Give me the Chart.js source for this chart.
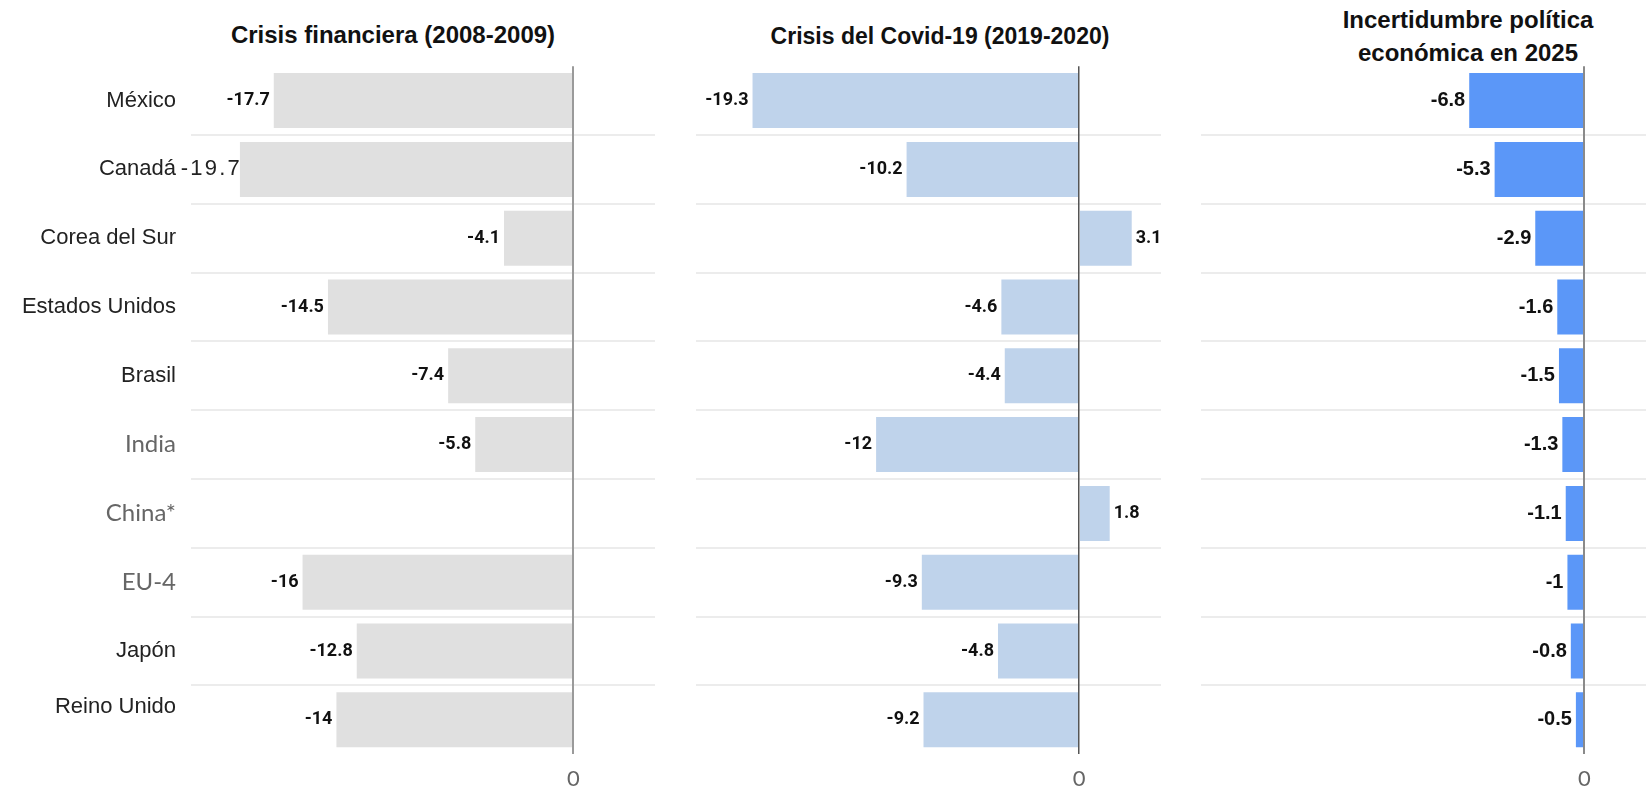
<!DOCTYPE html>
<html>
<head>
<meta charset="utf-8">
<script src="https://cdn.jsdelivr.net/npm/chart.js@4"></script>
<style>
  html, body { margin: 0; padding: 0; background: #fff; }
  body { width: 1646px; height: 788px; position: relative; overflow: hidden; }
  canvas { position: absolute; top: 0; }
  .title { position: absolute; transform: translateX(-50%); white-space: nowrap; text-align: center;
           font-family: "Liberation Sans", Arial, sans-serif; font-weight: bold; color: #111; }
</style>
</head>
<body>
<div class="title" style="left:393px; top:21px; font-size:24px; line-height:28px;">Crisis financiera (2008-2009)</div>
<div class="title" style="left:940px; top:22px; font-size:23px; line-height:28px;">Crisis del Covid-19 (2019-2020)</div>
<div class="title" style="left:1468px; top:4px; font-size:24px; line-height:32.5px;">Incertidumbre política<br>económica en 2025</div>
<canvas id="c1" width="655" height="788" style="left:0px"></canvas>
<canvas id="c2" width="501" height="788" style="left:660px"></canvas>
<canvas id="c3" width="485" height="788" style="left:1161px"></canvas>
<script>
// ---- data ----
const categories = ["México", "Canadá", "Corea del Sur", "Estados Unidos", "Brasil", "India", "China*", "EU-4", "Japón", "Reino Unido"];
const crisisFinanciera = [-17.7, -19.7, -4.1, -14.5, -7.4, -5.8, null, -16, -12.8, -14];
const crisisCovid = [-19.3, -10.2, 3.1, -4.6, -4.4, -12, 1.8, -9.3, -4.8, -9.2];
const incertidumbre2025 = [-6.8, -5.3, -2.9, -1.6, -1.5, -1.3, -1.1, -1, -0.8, -0.5];
const xTickValues = [0];

// ---- value labels plugin ----
const valueLabels = {
  id: 'valueLabels',
  afterDatasetsDraw(chart, args, opts) {
    const ctx = chart.ctx;
    chart.data.datasets.forEach((ds, di) => {
      const meta = chart.getDatasetMeta(di);
      meta.data.forEach((bar, i) => {
        const v = ds.data[i];
        if (v === null || v === undefined) return;
        const o = Object.assign({}, opts, (opts.overrides || {})[i] || {});
        ctx.save();
        ctx.font = o.font;
        ctx.fillStyle = o.color;
        ctx.textBaseline = 'middle';
        if ('letterSpacing' in ctx) ctx.letterSpacing = o.letterSpacing || '0px';
        if (v < 0) { ctx.textAlign = 'right'; ctx.fillText(String(v), bar.x - o.gap, bar.y + (o.dy || 0)); }
        else { ctx.textAlign = 'left'; ctx.fillText(String(v), bar.x + o.gap, bar.y + (o.dy || 0)); }
        ctx.restore();
      });
    });
  }
};

const grayIdx = ["India", "China*", "EU-4"];

function makeChart(id, data, color, zeroColor, zeroWidth, min, max, yWidth, showLabels, labelOpts) {
  return new Chart(document.getElementById(id), {
    type: 'bar',
    data: {
      labels: categories,
      datasets: [{ data: data, backgroundColor: color, borderWidth: 0,
                   categoryPercentage: 0.8, barPercentage: 1.0 }]
    },
    plugins: [valueLabels],
    options: {
      indexAxis: 'y',
      responsive: false,
      animation: false,
      layout: { padding: { top: 66.2, left: 0, right: 0, bottom: 0 } },
      plugins: {
        legend: { display: false },
        tooltip: { enabled: false },
        title: { display: false },
        valueLabels: labelOpts
      },
      scales: {
        x: {
          type: 'linear', min: min, max: max,
          afterBuildTicks: (s) => { s.ticks = xTickValues.map(v => ({ value: v })); },
          afterFit: (s) => { s.height = 33.8; },
          grid: { z: 1, drawTicks: false, lineWidth: zeroWidth,
                  color: (c) => (c.tick && c.tick.value === 0) ? zeroColor : 'rgba(0,0,0,0)' },
          border: { display: false },
          ticks: { padding: 12, color: '#666', font: { family: 'Lato, "Open Sans", sans-serif', size: 22 },
                   maxRotation: 0 }
        },
        y: {
          afterFit: (s) => { s.width = yWidth; },
          grid: { drawTicks: false, lineWidth: 2,
                  color: (c) => (c.index > 0 && c.index < categories.length) ? '#ececec' : 'rgba(0,0,0,0)' },
          border: { display: false },
          ticks: {
            display: showLabels,
            padding: 15,
            autoSkip: false,
            callback: (v, i) => (i === categories.length - 1) ? [categories[i], ''] : categories[i],
            color: (c) => grayIdx.includes(categories[c.index]) ? '#666' : '#222',
            font: (c) => grayIdx.includes(categories[c.index])
              ? { family: 'Lato, sans-serif', size: 24, lineHeight: 1.2 }
              : { family: '"Liberation Sans", Arial, sans-serif', size: 22, lineHeight: 1.2 }
          }
        }
      }
    }
  });
}

const dinFont = 'bold 18px Roboto, "Liberation Sans", sans-serif';

makeChart('c1', crisisFinanciera, '#e0e0e0', '#9a9a9a', 2, -22.59, 4.82, 191, true,
  { font: dinFont, color: '#111', gap: 4,
    overrides: { 1: { font: '22px "Liberation Sans", Arial, sans-serif', color: '#222', letterSpacing: '2.2px', gap: -2 } } });

makeChart('c2', crisisCovid, '#bfd3eb', '#555', 1.5, -22.64, 4.83, 36, false,
  { font: dinFont, color: '#111', gap: 4 });

makeChart('c3', incertidumbre2025, '#5b97f8', '#8a8a8a', 2, -22.64, 3.64, 40, false,
  { font: 'bold 20px "Liberation Sans", Arial, sans-serif', color: '#111', gap: 4 });
</script>
</body>
</html>
